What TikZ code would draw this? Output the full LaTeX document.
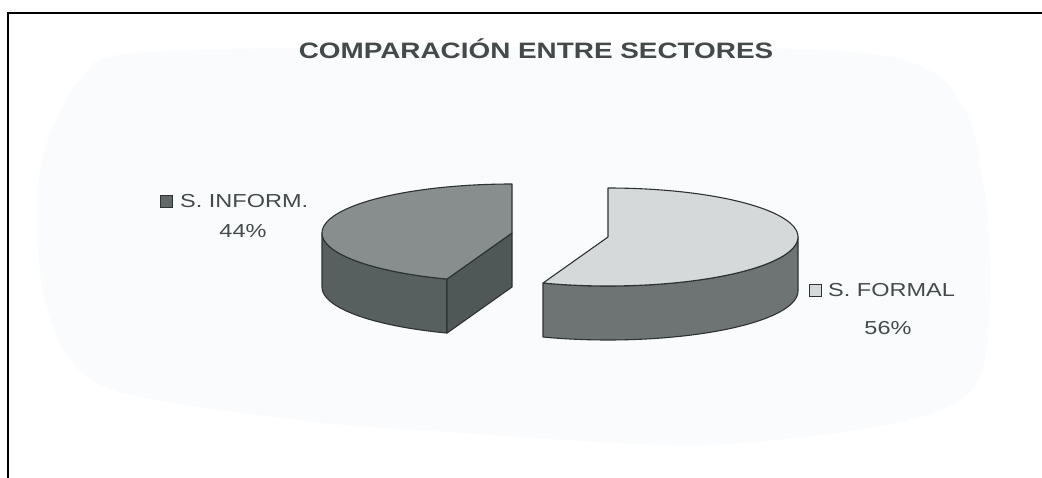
\documentclass[tikz,border=0pt]{standalone}
\usepackage{fontspec}
\usetikzlibrary{calc}
\newfontfamily\chartfont[FakeStretch=1.25]{Liberation Sans}
\definecolor{txtgray}{RGB}{68,74,74}
\definecolor{edgegray}{RGB}{45,50,50}
\definecolor{infotop}{RGB}{136,141,141}
\definecolor{infowall}{RGB}{88,95,95}
\definecolor{infocut}{RGB}{80,87,87}
\definecolor{formtop}{RGB}{214,217,217}
\definecolor{formwall}{RGB}{110,116,116}
\definecolor{paper}{RGB}{249,251,253}
\tikzset{
  chartlabel/.style={font=\chartfont\fontsize{18.8}{22}\selectfont, text=txtgray, inner sep=0pt},
  charttitle/.style={font=\chartfont\bfseries\fontsize{22.3}{26}\selectfont, text=txtgray, inner sep=0pt},
  pieedge/.style={draw=edgegray, line width=1.1pt, line join=round},
  legendbox/.style={draw=edgegray, line width=0.9pt, minimum size=12pt, inner sep=0pt},
  framestroke/.style={line width=2pt, black}
}
\begin{document}
\begin{tikzpicture}[x=1pt,y=-1pt]
\useasboundingbox (0,0) rectangle (1042,478);
\fill[white] (0,0) rectangle (1042,478);
% faint scanned paper area
\fill[paper] plot[smooth cycle] coordinates {(150,52) (560,47) (880,55) (965,110) (990,250) (978,380) (900,422) (700,445) (450,432) (300,420) (100,385) (45,300) (40,170) (80,80)};
% frame
\draw[framestroke] (8,478) -- (8,13) -- (1042,13);
\def\A{190}\def\B{49}\def\D{54}\def\S{250}
% ---------- left piece: S. INFORM. 44% ----------
\def\Lcx{512}\def\Lcy{233}
\fill[infowall] plot[domain=180:\S,samples=40] ({\Lcx+\A*cos(\x)},{\Lcy-\B*sin(\x)})
  -- plot[domain=\S:180,samples=40] ({\Lcx+\A*cos(\x)},{\Lcy+\D-\B*sin(\x)}) -- cycle;
\draw[pieedge] plot[domain=180:\S,samples=40] ({\Lcx+\A*cos(\x)},{\Lcy-\B*sin(\x)})
  -- plot[domain=\S:180,samples=40] ({\Lcx+\A*cos(\x)},{\Lcy+\D-\B*sin(\x)}) -- cycle;
\coordinate (LC) at (\Lcx,\Lcy);
\coordinate (LP) at ({\Lcx+\A*cos(\S)},{\Lcy-\B*sin(\S)});
\coordinate (LPd) at ($(LP)+(0,\D)$);
\coordinate (LCd) at ($(LC)+(0,\D)$);
\fill[infocut] (LC) -- (LP) -- (LPd) -- (LCd) -- cycle;
\draw[pieedge] (LC) -- (LP) -- (LPd) -- (LCd) -- cycle;
\filldraw[pieedge, fill=infotop] (LC) -- plot[domain=90:\S,samples=60] ({\Lcx+\A*cos(\x)},{\Lcy-\B*sin(\x)}) -- cycle;
% ---------- right piece: S. FORMAL 56% ----------
\def\Rcx{608}\def\Rcy{237}
\fill[formwall] plot[domain=\S-360:0,samples=50] ({\Rcx+\A*cos(\x)},{\Rcy-\B*sin(\x)})
  -- plot[domain=0:\S-360,samples=50] ({\Rcx+\A*cos(\x)},{\Rcy+\D-\B*sin(\x)}) -- cycle;
\draw[pieedge] plot[domain=\S-360:0,samples=50] ({\Rcx+\A*cos(\x)},{\Rcy-\B*sin(\x)})
  -- plot[domain=0:\S-360,samples=50] ({\Rcx+\A*cos(\x)},{\Rcy+\D-\B*sin(\x)}) -- cycle;
\coordinate (RC) at (\Rcx,\Rcy);
\filldraw[pieedge, fill=formtop] (RC) -- plot[domain=90:\S-360,samples=70] ({\Rcx+\A*cos(\x)},{\Rcy-\B*sin(\x)}) -- cycle;
% ---------- texts ----------
\node[charttitle, anchor=base] (title) at (536,59) {COMPARACIÓN ENTRE SECTORES};
\node[legendbox, fill=infowall!80!infotop] (infobox) at (166,201) {};
\node[chartlabel, anchor=base west] (infolabel) at (180,208) {S. INFORM.};
\node[chartlabel, anchor=base] (infopct) at (243,238) {44\%};
\node[legendbox, fill=formtop] (formbox) at (815.5,290.5) {};
\node[chartlabel, anchor=base west] (formlabel) at (828,297) {S. FORMAL};
\node[chartlabel, anchor=base] (formpct) at (888,335) {56\%};
\end{tikzpicture}
\end{document}
